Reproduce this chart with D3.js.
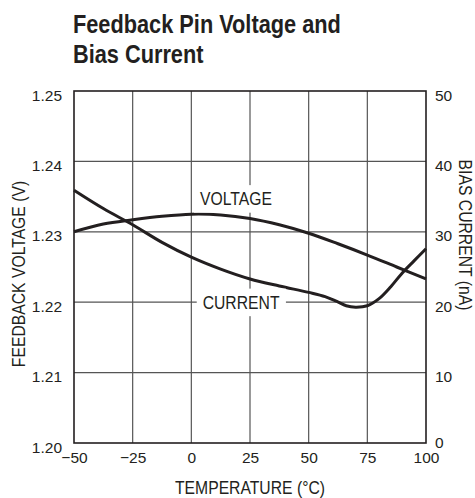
<!DOCTYPE html>
<html>
<head>
<meta charset="utf-8">
<script src="https://cdn.jsdelivr.net/npm/d3@7"></script>
<style>
  html, body { margin: 0; padding: 0; background: #fff; }
  svg { display: block; }
</style>
</head>
<body>
<svg id="chart" width="475" height="498"></svg>
<script>
// ---- Data ----
const titleLines = ["Feedback Pin Voltage and", "Bias Current"];
const xTicks = [-50, -25, 0, 25, 50, 75, 100];
const yLeftTicks = [1.20, 1.21, 1.22, 1.23, 1.24, 1.25];
const yRightTicks = [0, 10, 20, 30, 40, 50];

const voltageTemp = [-50, -37.5, -25, -12.5, 0, 12.5, 25, 37.5, 50, 62.5, 75, 87.5, 100];
const voltageVals = [1.2300, 1.2311, 1.2317, 1.2322, 1.2325, 1.2324, 1.2319, 1.2310, 1.2298, 1.2283, 1.2267, 1.2250, 1.2233];

const currentTemp = [-50, -37.5, -25, -12.5, 0, 12.5, 25, 37.5, 50, 57, 62, 66, 70, 75, 80, 85, 90, 95, 100];
const currentVals = [35.9, 33.3, 31.0, 28.5, 26.4, 24.7, 23.3, 22.3, 21.4, 20.8, 20.1, 19.5, 19.3, 19.5, 20.5, 22.2, 24.2, 25.9, 27.6];

const labelNames = ["VOLTAGE", "CURRENT"];
const labelTemp = [19, 21.2];
const labelCurrentAxisVal = [34.7, 20.0];

// ---- Layout ----
const svg = d3.select("#chart");
const margin = { left: 74, top: 91, right: 475 - 426, bottom: 498 - 443 };
const W = 475 - margin.left - margin.right;
const H = 498 - margin.top - margin.bottom;
const ink = "#231f20";
const gridCol = "#555";
const font = "'Liberation Sans', Arial, Helvetica, sans-serif";
const labelSize = 18.5;
const condense = 0.85;

const x = d3.scaleLinear().domain([-50, 100]).range([0, W]);
const yL = d3.scaleLinear().domain([1.20, 1.25]).range([H, 0]);
const yR = d3.scaleLinear().domain([0, 50]).range([H, 0]);

// helper: condensed text drawn inside a transformed group
function condensedText(parent, str, tx, ty, opts) {
  const o = Object.assign({ rotate: 0, sx: condense, size: labelSize, weight: "normal", anchor: "start", dy: null }, opts || {});
  const grp = parent.append("g")
    .attr("transform", `translate(${tx},${ty}) rotate(${o.rotate}) scale(${o.sx},1)`);
  const t = grp.append("text")
    .attr("x", 0).attr("y", 0)
    .attr("text-anchor", o.anchor)
    .attr("font-family", font)
    .attr("font-size", o.size)
    .attr("font-weight", o.weight)
    .attr("fill", ink)
    .text(str);
  if (o.dy) t.attr("dy", o.dy);
  return { grp, t };
}

// Title
titleLines.forEach((line, i) => {
  condensedText(svg, line, 73, 33 + i * 29.5, { sx: 0.87, size: 25, weight: "bold" });
});

const g = svg.append("g").attr("transform", `translate(${margin.left},${margin.top})`);

// Grid
g.append("g").selectAll("line").data(xTicks.slice(1, -1)).join("line")
  .attr("x1", d => x(d)).attr("x2", d => x(d))
  .attr("y1", 0).attr("y2", H)
  .attr("stroke", gridCol).attr("stroke-width", 1.2);
g.append("g").selectAll("line").data(yLeftTicks.slice(1, -1)).join("line")
  .attr("y1", d => yL(d)).attr("y2", d => yL(d))
  .attr("x1", 0).attr("x2", W)
  .attr("stroke", gridCol).attr("stroke-width", 1.2);

// Axes (labels only, using d3 axes)
const axL = d3.axisLeft(yL).tickValues(yLeftTicks).tickFormat(d3.format(".2f")).tickSize(0).tickPadding(12);
const axR = d3.axisRight(yR).tickValues(yRightTicks).tickFormat(d3.format("d")).tickSize(0).tickPadding(9);
const axB = d3.axisBottom(x).tickValues(xTicks).tickFormat(d => d < 0 ? "\u2212" + Math.abs(d) : d).tickSize(0).tickPadding(9);

function styleAxis(sel) {
  sel.select(".domain").remove();
  sel.selectAll("text").attr("font-family", font).attr("font-size", 15.5).attr("fill", ink);
}
g.append("g").call(axL).call(styleAxis).selectAll("text").attr("dy", "0.58em");
g.append("g").attr("transform", `translate(${W},0)`).call(axR).call(styleAxis)
  .selectAll("text").attr("dy", d => d === 0 ? "0.3em" : "0.58em");
g.append("g").attr("transform", `translate(0,${H})`).call(axB).call(styleAxis);

// Frame
g.append("rect").attr("x", 0).attr("y", 0).attr("width", W).attr("height", H)
  .attr("fill", "none").attr("stroke", ink).attr("stroke-width", 1.6);

// Curves
const lineV = d3.line().x(d => x(d[0])).y(d => yL(d[1])).curve(d3.curveCatmullRom);
const lineC = d3.line().x(d => x(d[0])).y(d => yR(d[1])).curve(d3.curveCatmullRom);
g.append("path").datum(d3.zip(voltageTemp, voltageVals)).attr("d", lineV)
  .attr("fill", "none").attr("stroke", ink).attr("stroke-width", 3);
g.append("path").datum(d3.zip(currentTemp, currentVals)).attr("d", lineC)
  .attr("fill", "none").attr("stroke", ink).attr("stroke-width", 3);

// Curve labels with white backgrounds
labelNames.forEach((name, i) => {
  const { grp, t } = condensedText(g, name, x(labelTemp[i]), yR(labelCurrentAxisVal[i]),
    { anchor: "middle", dy: "0.36em" });
  const bb = t.node().getBBox();
  grp.insert("rect", "text")
    .attr("x", bb.x - 7).attr("y", bb.y - 3)
    .attr("width", bb.width + 14).attr("height", bb.height + 6)
    .attr("fill", "#fff");
});

// Axis titles
condensedText(svg, "TEMPERATURE (\u00B0C)", margin.left + W / 2, 494, { anchor: "middle" });
condensedText(svg, "FEEDBACK VOLTAGE (V)", 25, margin.top + H / 2 + 7, { anchor: "middle", rotate: -90 });
condensedText(svg, "BIAS CURRENT (nA)", 459, 235, { anchor: "middle", rotate: 90 });
</script>
</body>
</html>
